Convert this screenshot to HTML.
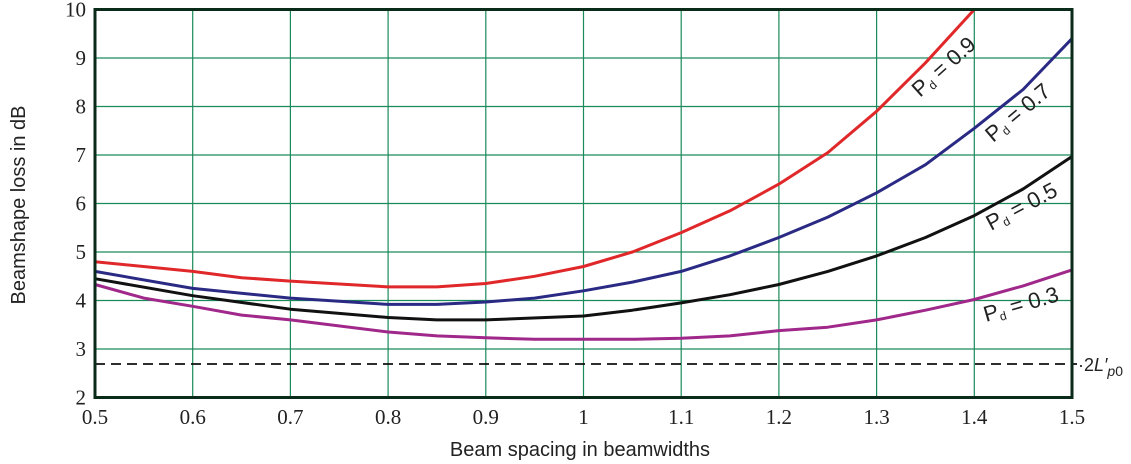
<!DOCTYPE html>
<html><head><meta charset="utf-8"><style>
html,body{margin:0;padding:0;background:#fff;}
svg{display:block;font-family:"Liberation Sans",sans-serif;}
.t{font-family:"Liberation Serif",serif;font-size:21px;fill:#222;}
.l{font-family:"Liberation Sans",sans-serif;font-size:22px;fill:#222;font-weight:300;}
</style></head><body>
<svg id="s" width="1131" height="464" viewBox="0 0 1131 464" xmlns="http://www.w3.org/2000/svg"></svg>
<script>
const X0=95,X1=1072,Y0=9.5,Y1=397.5;
const fx=v=>X0+(v-0.5)*(X1-X0);
const fy=v=>Y1-(v-2)*(Y1-Y0)/8;
let h='';
for(let i=1;i<10;i++){const x=fx(0.5+i*0.1);h+=`<line x1="${x}" y1="${Y0}" x2="${x}" y2="${Y1}" stroke="#1a8a5a" stroke-width="1.2"/>`;}
for(let v=3;v<10;v++){const y=fy(v);h+=`<line x1="${X0}" y1="${y}" x2="${X1}" y2="${y}" stroke="#1a8a5a" stroke-width="1.2"/>`;}
h+=`<line x1="${X0}" y1="${fy(2.69)}" x2="${X1+5}" y2="${fy(2.69)}" stroke="#111" stroke-width="1.8" stroke-dasharray="10,6"/>`;
const S={
'#e0282a':[[.5,4.8],[.6,4.6],[.65,4.47],[.7,4.4],[.8,4.28],[.85,4.28],[.9,4.35],[.95,4.5],[1,4.7],[1.05,5],[1.1,5.4],[1.15,5.85],[1.2,6.4],[1.25,7.05],[1.3,7.9],[1.35,8.9],[1.4,10]],
'#2a2a85':[[.5,4.6],[.6,4.25],[.7,4.05],[.8,3.92],[.85,3.92],[.9,3.97],[.95,4.05],[1,4.2],[1.05,4.38],[1.1,4.6],[1.15,4.92],[1.2,5.3],[1.25,5.72],[1.3,6.22],[1.35,6.8],[1.4,7.55],[1.45,8.35],[1.5,9.4]],
'#111':[[.5,4.45],[.6,4.1],[.7,3.82],[.8,3.65],[.85,3.6],[.9,3.6],[1,3.68],[1.05,3.8],[1.1,3.95],[1.15,4.12],[1.2,4.33],[1.25,4.6],[1.3,4.92],[1.35,5.3],[1.4,5.75],[1.45,6.3],[1.5,6.97]],
'#a0288a':[[.5,4.33],[.55,4.05],[.6,3.88],[.65,3.7],[.7,3.6],[.8,3.35],[.85,3.27],[.9,3.23],[.95,3.2],[1,3.2],[1.05,3.2],[1.1,3.22],[1.15,3.27],[1.2,3.38],[1.25,3.45],[1.3,3.6],[1.35,3.8],[1.4,4.02],[1.45,4.3],[1.5,4.63]]};
for(const c in S){h+=`<polyline fill="none" stroke="${c}" stroke-width="3" stroke-linejoin="round" points="${S[c].map(p=>fx(p[0]).toFixed(1)+','+fy(p[1]).toFixed(1)).join(' ')}"/>`;}
h+=`<rect x="${X0}" y="${Y0}" width="${X1-X0}" height="${Y1-Y0}" fill="none" stroke="#0a2a1a" stroke-width="3"/>`;
for(let v=2;v<=10;v++){h+=`<text class="t" x="86" y="${fy(v)+7}" text-anchor="end">${v}</text>`;}
for(let i=0;i<=10;i++){const v=(0.5+i*0.1);let s=(Math.round(v*10)/10).toString();h+=`<text class="t" x="${fx(v)}" y="424" text-anchor="middle">${s}</text>`;}
h+=`<text x="580" y="456" text-anchor="middle" font-size="20" fill="#222">Beam spacing in beamwidths</text>`;
h+=`<text transform="translate(25,205) rotate(-90)" text-anchor="middle" font-size="20" fill="#222">Beamshape loss in dB</text>`;
h+=`<text x="1078" y="371" font-size="18" fill="#222">·2<tspan font-style="italic">L′</tspan><tspan font-style="italic" font-size="14" dy="5">p</tspan><tspan font-size="14">0</tspan></text>`;
const L=[[920,98,-42,'0.9'],[993,143,-40,'0.7'],[991,231,-28,'0.5'],[986,322,-16,'0.3']];
for(const [x,y,a,v] of L){h+=`<text class="l" transform="translate(${x},${y}) rotate(${a})">P<tspan font-size="12" dy="3">d</tspan><tspan dy="-3"> = ${v}</tspan></text>`;}
document.getElementById('s').innerHTML=h;
</script>
</body></html>
